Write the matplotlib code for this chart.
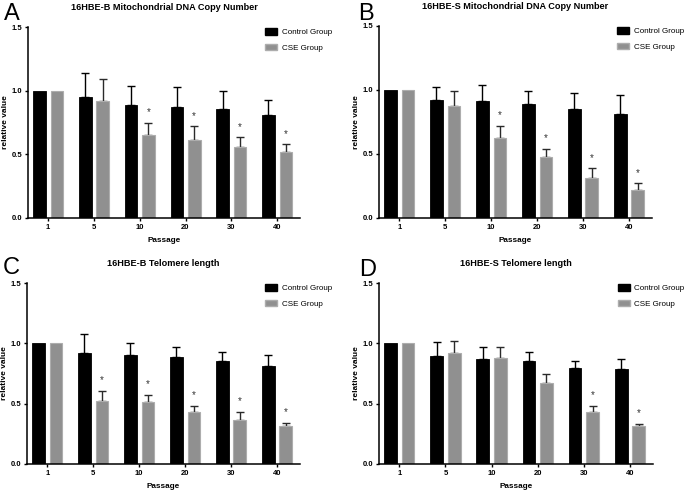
import matplotlib
matplotlib.use("Agg")
import matplotlib.pyplot as plt
import numpy as np
from matplotlib.patches import Patch

passages = ["1", "5", "10", "20", "30", "40"]
legend_labels = ["Control Group", "CSE Group"]
titles = ["16HBE-B Mitochondrial DNA Copy Number",
          "16HBE-S Mitochondrial DNA Copy Number",
          "16HBE-B Telomere length",
          "16HBE-S Telomere length"]
panel_letters = ["A", "B", "C", "D"]

# Panel A
a_ctrl = [1.00, 0.95, 0.89, 0.875, 0.855, 0.805]
a_ctrl_err = [0.0, 0.19, 0.15, 0.155, 0.145, 0.125]
a_cse = [1.00, 0.915, 0.655, 0.615, 0.555, 0.515]
a_cse_err = [0.0, 0.175, 0.095, 0.105, 0.078, 0.065]
a_star = [False, False, True, True, True, True]
# Panel B
b_ctrl = [1.00, 0.92, 0.915, 0.89, 0.852, 0.812]
b_ctrl_err = [0.0, 0.10, 0.125, 0.10, 0.127, 0.146]
b_cse = [1.00, 0.872, 0.625, 0.474, 0.312, 0.221]
b_cse_err = [0.0, 0.12, 0.094, 0.068, 0.076, 0.05]
b_star = [False, False, True, True, True, True]
# Panel C
c_ctrl = [1.00, 0.923, 0.903, 0.884, 0.854, 0.815]
c_ctrl_err = [0.0, 0.157, 0.097, 0.088, 0.077, 0.088]
c_cse = [1.00, 0.522, 0.514, 0.434, 0.365, 0.312]
c_cse_err = [0.0, 0.086, 0.058, 0.046, 0.069, 0.031]
c_star = [False, True, True, True, True, True]
# Panel D
d_ctrl = [1.00, 0.895, 0.873, 0.854, 0.793, 0.785]
d_ctrl_err = [0.0, 0.113, 0.099, 0.077, 0.058, 0.085]
d_cse = [1.00, 0.917, 0.881, 0.674, 0.434, 0.312]
d_cse_err = [0.0, 0.105, 0.091, 0.069, 0.046, 0.022]
d_star = [False, False, False, False, True, True]

panels = [
    (a_ctrl, a_ctrl_err, a_cse, a_cse_err, a_star),
    (b_ctrl, b_ctrl_err, b_cse, b_cse_err, b_star),
    (c_ctrl, c_ctrl_err, c_cse, c_cse_err, c_star),
    (d_ctrl, d_ctrl_err, d_cse, d_cse_err, d_star),
]

W, H = 685, 496
fig = plt.figure(figsize=(W / 100, H / 100), dpi=100)

# axes rectangles in pixels: left, right, top, bottom
rects = [(28, 300, 27, 218), (379, 652, 26, 218),
         (27, 300, 283, 464), (379, 653, 283, 464)]

REG = ["Liberation Sans", "DejaVu Sans"]

ctrl_color = "black"
cse_color = "#909090"
cse_edge = "#adadad"

for i, (ctrl, ctrl_err, cse, cse_err, star) in enumerate(panels):
    l, r, t, b = rects[i]
    ax = fig.add_axes([l / W, 1 - b / H, (r - l) / W, (b - t) / H])
    x = np.arange(len(passages))
    bw = 0.275
    off = 0.19
    ax.bar(x - off, ctrl, width=bw, color=ctrl_color, edgecolor=ctrl_color,
           linewidth=0.6, zorder=2)
    ax.bar(x + off, cse, width=bw, color=cse_color, edgecolor=cse_edge,
           linewidth=0.8, zorder=2)
    ctrl_e = np.array(ctrl_err)
    cse_e = np.array(cse_err)
    mc = ctrl_e > 0
    ms = cse_e > 0
    ax.errorbar((x - off)[mc], np.array(ctrl)[mc],
                yerr=[np.zeros(mc.sum()), ctrl_e[mc]],
                fmt="none", ecolor="black", elinewidth=1.0, capsize=3,
                capthick=1.0, zorder=1)
    ax.errorbar((x + off)[ms], np.array(cse)[ms],
                yerr=[np.zeros(ms.sum()), cse_e[ms]],
                fmt="none", ecolor="#2a2a2a", elinewidth=1.0, capsize=3,
                capthick=1.0, zorder=1)
    for j in range(len(passages)):
        if star[j]:
            ax.annotate("*", xy=(x[j] + off, cse[j] + cse_err[j]),
                        xytext=(0, 4), textcoords="offset points",
                        ha="center", va="bottom", fontsize=7,
                        family=REG, color="#333333")

    ax.set_xlim(-0.44, 5.5)
    ax.set_ylim(0, 1.5)
    ax.set_yticks([0, 0.5, 1.0, 1.5])
    ax.set_yticklabels(["0.0", "0.5", "1.0", "1.5"])
    ax.set_xticks(x)
    ax.set_xticklabels(passages)
    for s in ["top", "right"]:
        ax.spines[s].set_visible(False)
    for s in ["left", "bottom"]:
        ax.spines[s].set_linewidth(1.1)
    ax.tick_params(axis="both", direction="out", length=2.5, width=1.0,
                   pad=1.5)
    for lab in ax.get_xticklabels() + ax.get_yticklabels():
        lab.set_fontfamily(REG)
        lab.set_fontweight("bold")
        lab.set_fontsize(5.5)
    ax.set_xlabel("Passage", fontsize=5.9, fontweight="bold",
                  family=REG, labelpad=4.5)
    ax.set_ylabel("relative value", fontsize=6, fontweight="bold",
                  family=REG, labelpad=2)
    ax.set_title(titles[i], fontsize=6.6, fontweight="bold", family=REG,
                 pad=12)
    handles = [Patch(facecolor=ctrl_color, edgecolor=ctrl_color),
               Patch(facecolor=cse_color, edgecolor=cse_edge)]
    ax.legend(handles, legend_labels, loc="upper left",
              bbox_to_anchor=(0.872, 0.995), frameon=False,
              prop={"family": REG, "size": 5.8}, handlelength=1.5,
              handleheight=0.9, handletextpad=0.55, labelspacing=0.95,
              borderpad=0, borderaxespad=0)

letter_pos = [(4, 3), (358, 3), (3, 257), (359, 259)]
for (px, py), letter in zip(letter_pos, panel_letters):
    fig.text(px / W, 1 - py / H, letter, fontsize=17, family=REG,
             ha="left", va="top")

fig.savefig("out.png", dpi=100)
